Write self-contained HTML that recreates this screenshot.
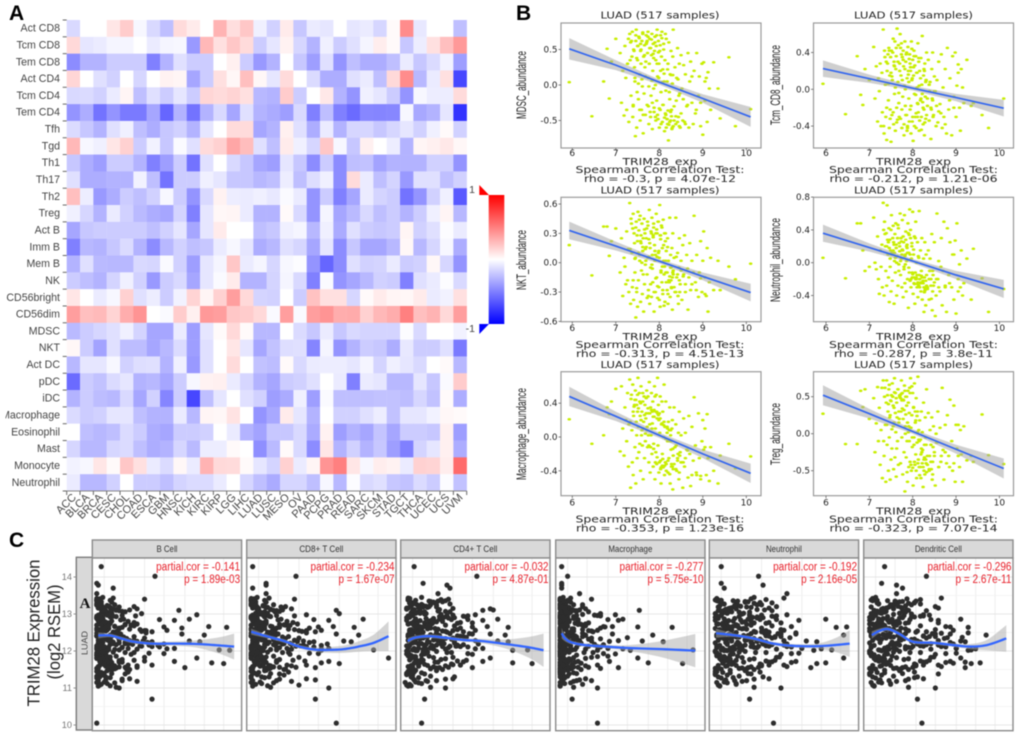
<!DOCTYPE html>
<html lang="en">
<head>
<meta charset="utf-8">
<title>TRIM28 immune correlation figure</title>
<style>
html,body{margin:0;padding:0;background:#fff;width:1020px;height:740px;overflow:hidden}
svg{display:block;filter:blur(0.4px)}
.sans{font-family:"Liberation Sans",sans-serif}
.dv{font-family:"DejaVu Sans","Liberation Sans",sans-serif}
</style>
</head>
<body>
<svg id="fig" width="1020" height="740" viewBox="0 0 1020 740" xmlns="http://www.w3.org/2000/svg">
<defs>
<linearGradient id="cbGrad" x1="0" y1="0" x2="0" y2="1">
<stop offset="0" stop-color="#ff0000"/><stop offset="0.5" stop-color="#ffffff"/><stop offset="1" stop-color="#0000ff"/>
</linearGradient>
<clipPath id="labelClip"><rect x="5.5" y="0" width="70" height="500"/></clipPath>
</defs>
<text class="sans" x="9" y="20" font-size="21" font-weight="bold" fill="#000">A</text>
<text class="sans" x="516" y="20" font-size="21" font-weight="bold" fill="#000">B</text>
<text class="sans" x="9" y="547" font-size="21" font-weight="bold" fill="#000">C</text>
<g id="heat"></g>
<g id="scatters"></g>
<g id="facets"></g>
</svg>
<script>
/* ---------- Panel A data ---------- */
const cellTypes=["Act CD8","Tcm CD8","Tem CD8","Act CD4","Tcm CD4","Tem CD4","Tfh","Tgd","Th1","Th17","Th2","Treg","Act B","Imm B","Mem B","NK","CD56bright","CD56dim","MDSC","NKT","Act DC","pDC","iDC","Macrophage","Eosinophil","Mast","Monocyte","Neutrophil"];
const cancerTypes=["ACC","BLCA","BRCA","CESC","CHOL","COAD","ESCA","GBM","HNSC","KICH","KIRC","KIRP","LGG","LIHC","LUAD","LUSC","MESO","OV","PAAD","PCPG","PRAD","READ","SARC","SKCM","STAD","TGCT","THCA","UCEC","UCS","UVM"];
/* correlation x 100, one row per cell type */
const correlationRows=[
[-15,0,0,10,20,-3,-15,-25,14,8,0,30,13,22,-6,-18,8,-22,-8,-10,0,-10,-8,-16,2,45,-9,0,0,-25],
[15,-10,-8,-4,-4,0,-8,-4,-3,-40,28,12,22,14,-20,-10,5,-16,-30,-6,-20,-12,-4,7,2,-22,-7,12,25,40],
[-45,-30,-30,-20,-20,-20,-50,-30,-12,-20,-20,0,6,-20,-40,-30,0,-22,-38,-12,-42,-25,-32,-32,-25,-8,-22,-14,-5,-38],
[16,0,-12,-18,0,-16,0,5,4,-35,-20,12,3,25,3,-10,14,0,-14,-32,-32,-12,-8,-25,15,45,-28,-8,12,-72],
[-15,-14,-18,-8,4,-25,-12,-20,-10,-20,16,14,17,12,-28,-30,20,-20,0,9,-30,-42,-6,-10,-20,-42,-3,-7,-7,14],
[-42,-32,-55,-42,-52,-52,-35,-60,-30,-55,-30,-15,-35,-12,-30,-33,-38,-15,-50,-25,-50,-58,-47,-48,-47,-3,-34,-30,-10,-80],
[-14,-22,-30,-12,-6,-25,-32,-22,-18,-30,-10,0,14,14,-35,-30,6,-12,-32,-8,-30,-16,-16,-22,-16,-10,-18,-6,2,-18],
[28,-3,-6,10,18,-20,-5,-22,-2,-12,14,18,35,26,-12,-25,8,-6,-16,22,-3,-22,6,0,-7,-30,4,6,9,3],
[-22,-32,-38,-20,-20,-30,-50,-38,-20,-55,-12,0,-15,-22,-35,-38,-10,-22,-45,-20,-45,-25,-24,-36,-30,-30,-30,-18,-18,-42],
[-12,-32,-32,-30,-30,-5,-25,-55,-20,-20,-6,-10,-22,-22,-28,-25,-7,-25,-13,-6,-45,14,-8,-25,-17,-40,-12,-12,-25,-18],
[25,-7,-40,-32,-20,-25,-18,-3,-20,-42,-15,5,-7,-8,-6,-9,-2,-8,-42,-20,-50,-35,-8,-17,-20,-55,-42,-18,-6,-65],
[-6,-16,-30,-8,-18,-27,-32,-35,-17,-50,-10,3,4,-8,-30,-30,2,-15,-42,-4,-35,-27,-15,-25,-20,-30,-20,-6,4,-28],
[-35,-22,-20,-20,-20,-20,-25,-18,-10,-35,-10,8,0,0,-25,-22,-6,-4,-28,-6,-33,-12,-20,-22,-20,4,-18,-12,-1,-8],
[-50,-28,-30,-22,-14,-30,-45,-28,-18,-25,-22,-8,-3,-10,-32,-28,-12,-16,-35,-10,-45,-22,-35,-35,-28,3,-28,-16,-3,-32],
[-30,-12,-27,-28,-28,-15,-16,-2,-18,-38,-10,-4,22,-8,-4,-16,-3,-1,-42,-60,-45,-12,-18,-17,-8,-20,-18,3,-16,-42],
[-20,-25,-30,-17,-6,-18,-40,-20,-15,-35,-10,-2,8,-30,-30,-17,-4,-15,-50,-2,-42,-35,-28,-18,-20,-50,-12,-8,-1,-15],
[10,0,-8,-3,18,-12,-7,-20,-5,17,4,18,38,15,-17,-18,0,-20,24,12,12,-16,2,8,4,3,8,-8,-5,12],
[38,25,27,17,32,42,0,-2,20,6,40,38,22,20,15,-2,38,-2,38,42,32,33,18,28,32,50,25,30,15,38],
[-27,-20,-16,-12,-6,-17,-35,-35,-8,-38,-10,2,15,2,-28,-28,0,-14,-22,-8,-22,-15,-17,-17,-17,-1,-15,0,0,-5],
[3,-20,-36,-12,-26,-26,-35,-28,-14,-38,-12,0,10,-10,-35,-24,-13,-12,-48,-4,-42,-30,-20,-22,-32,-9,-20,-20,-12,-52],
[-28,-10,-10,-3,-18,-13,-12,-30,-6,-40,-12,0,14,0,-24,-26,2,-15,-8,-7,-7,-10,-4,-17,-6,-10,-15,0,2,-28],
[-58,-20,-24,-14,-10,-30,-28,-35,-20,-3,5,6,-8,-16,-30,-35,-20,-18,-12,0,-8,-50,-8,-10,-28,-28,-10,-22,-2,20],
[-30,-20,-26,-28,-15,-35,-18,-48,-20,-72,-25,-10,0,-12,-18,-38,-33,-6,-38,-2,-25,-25,-25,-24,-24,-26,-16,-24,2,-32],
[-14,-20,-18,-10,-10,-25,-30,-30,-8,-28,4,3,11,0,-42,-34,8,-10,-30,0,-18,-18,-12,-7,-24,-10,-10,-5,3,2],
[0,-25,-28,-25,-14,-20,-32,-35,-20,-20,-18,0,-8,-30,-36,-22,-22,-15,-33,5,-38,-30,-35,-23,-35,-20,-20,-22,6,-38],
[-16,-28,-28,-16,-14,-25,-32,-30,-16,-27,-7,-7,2,0,-44,-27,2,-15,-45,10,-30,-18,-30,-22,-38,-50,-17,-10,6,-32],
[-5,-3,10,2,22,12,-8,-14,3,-8,30,15,14,2,-10,-17,18,-8,4,42,50,10,-3,7,5,-8,18,17,7,58],
[-8,-28,-28,-18,0,-20,-20,-25,-17,-14,-14,-8,0,-16,-25,-33,-16,-16,-25,-3,-28,-1,-15,-12,-22,-24,-14,-20,-1,-24]
];

/* ---------- Panel B data ---------- */
const trimExpression=[5.93,6.45,6.72,6.8,6.85,6.9,7.0,9.6,9.75,10.1,9.4,9.35,
7.1,7.13,7.16,7.19,7.21,7.23,7.25,7.27,7.29,7.3,
7.32,7.34,7.35,7.37,7.38,7.39,7.4,7.41,7.43,7.44,7.45,7.46,7.47,7.48,7.49,7.5,
7.51,7.52,7.53,7.55,7.56,7.57,7.58,7.59,7.6,7.61,7.62,7.63,7.64,7.65,7.66,7.67,7.68,7.7,
7.71,7.72,7.73,7.74,7.75,7.76,7.77,7.78,7.79,7.8,7.81,7.82,7.83,7.84,7.85,7.86,7.87,7.88,7.89,7.9,7.91,7.92,
7.93,7.94,7.95,7.96,7.97,7.98,7.99,8.0,8.01,8.02,8.03,8.04,8.05,8.06,8.07,8.08,8.09,8.1,8.11,8.12,8.13,8.14,
8.15,8.16,8.18,8.19,8.2,8.21,8.22,8.24,8.25,8.26,8.27,8.28,8.29,8.3,8.31,8.32,
8.34,8.36,8.38,8.4,8.42,8.44,8.45,8.46,8.48,8.5,8.52,8.54,
8.56,8.58,8.6,8.63,8.66,8.68,8.7,8.72,8.75,8.78,
8.8,8.83,8.86,8.9,8.92,8.95,8.98,9.0,
9.02,9.05,9.08,9.1,9.12,9.15,9.18,9.25,
7.36,7.42,7.46,7.5,7.54,7.58,7.62,7.66,7.7,7.74,
7.78,7.82,7.86,7.9,7.94,7.98,8.02,8.06,8.1,8.14,
8.18,8.22,8.26,8.3,8.34,8.38,8.42,8.46,8.5,8.6,
7.4,7.48,7.55,7.63,7.69,7.75,7.8,7.84,7.88,7.92,
7.96,8.0,8.04,8.08,8.12,8.16,8.2,8.24,8.28,8.32,
7.44,7.52,7.6,7.68,7.76,7.83,7.91,7.99,8.07,8.15,
8.23,8.31,8.39,8.47,8.55,8.65,8.75,8.85,8.95,9.05,
7.33,7.57,7.72,7.87,7.95,8.03,8.11,8.19,8.27,8.43];
const mdscAbundance=[.04,-.44,.05,.51,-.19,.33,.65,.39,-.58,-.34,-.47,-.05,
.45,-.25,.2,-.43,.55,.1,-.35,.3,.65,-.52,
.72,.6,-.15,.4,.75,-.45,-.3,.5,.25,.05,-.72,.62,.78,-.6,-.1,.35,
.55,-.2,.68,.15,-.5,.48,.3,-.35,.62,-.02,.72,-.68,.4,-.12,.56,.25,-.42,.7,
.6,-.28,.45,.75,.1,-.55,.3,.65,-.38,.52,-.15,.42,.72,-.62,.2,.58,-.05,-.32,.48,.68,-.45,.35,
.55,-.22,.78,.12,-.48,.62,.3,-.6,.48,-.35,.7,-.1,.4,.75,-.52,.22,-.28,.58,.05,-.65,.35,.72,
-.42,.65,.05,-.55,.3,-.78,.6,-.2,.15,-.5,.48,-.35,-.62,.02,.4,.78,
-.3,.25,-.55,.1,.52,-.45,-.15,.3,-.6,.42,-.05,-.5,
.28,-.52,.15,-.3,.45,-.6,.05,.33,-.25,-.55,
.2,-.4,.45,-.15,.12,-.58,.3,-.7,
.32,-.22,.1,-.52,.18,-.05,-.35,.32,
.62,.48,.7,.55,.66,.5,.74,.42,.58,.68,
.52,.64,.44,.6,.7,.46,.56,.66,.5,-.4,
-.48,-.56,-.38,-.6,-.5,-.44,-.52,-.58,-.4,-.55,
-.28,.38,-.35,-.42,.33,-.3,-.45,-.25,-.38,-.5,
-.42,-.33,-.55,-.28,-.46,-.6,-.36,-.52,-.44,-.58,
.1,.02,.08,.12,-.02,.06,0,.1,.04,-.08,
-.1,.14,-.22,-.12,-.2,-.28,.12,-.35,-.25,.05,
.35,.58,.62,.38,.3,.2,.16,.22,.14,.08];
const tcmCd8Abundance=[.06,-.27,.36,-.06,-.17,.22,.1,-.28,-.42,-.1,-.15,-.18,
.46,-.1,.25,-.35,.12,-.02,.28,-.4,.18,-.25,
.65,-.48,.42,.05,-.3,.3,-.55,.2,.38,-.12,.45,-.42,.15,-.22,.35,-.57,
.42,-.28,.1,.55,-.38,.3,-.05,.52,-.45,.22,.36,-.2,.66,-.33,.08,.48,-.15,.28,
.6,-.32,.15,.5,-.42,.35,-.08,.42,.25,-.5,.04,.52,-.18,.3,.38,-.28,.12,-.4,.46,.2,-.1,.33,
.38,-.22,.2,-.48,.52,.1,-.35,.32,-.56,.15,.42,-.05,.26,-.3,.36,-.42,.18,.02,-.15,.5,-.25,.3,
-.45,.2,-.12,.34,-.3,.05,.58,-.38,.15,-.22,-.5,.28,-.08,-.32,.1,.4,
-.18,.32,-.34,.08,-.54,.22,-.1,.4,-.28,.14,-.02,-.4,
.1,-.36,.3,-.16,.38,-.42,.02,-.3,.22,-.48,
.45,-.22,.12,-.5,.36,-.08,.4,-.3,
.04,.27,-.2,-.45,.22,.02,-.15,.32,
.35,.28,.42,.18,.4,.25,.45,.3,.2,.38,
.32,.22,.4,.16,.28,.44,.24,.36,.18,.34,
.12,-.05,.22,.08,-.1,.05,-.2,-.12,-.02,-.24,
-.2,-.32,-.25,-.36,-.3,-.22,-.38,-.28,-.42,-.35,
-.18,-.3,-.4,-.26,-.16,-.34,-.44,-.2,-.36,-.28,
.06,.14,.02,-.04,.1,0,.08,.12,-.06,.04,
-.14,.1,-.02,-.3,-.18,-.26,-.38,-.12,-.2,.18,
-.4,.26,.45,-.45,.24,.36,-.3,-.1,.2,-.22];
const nktAbundance=[.18,-.13,.37,.37,.07,.22,.35,-.04,-.17,-.01,-.28,.02,
-.1,.25,-.34,.05,-.04,-.22,.32,-.18,.14,-.3,
.61,-.42,.45,.1,-.25,.35,.5,-.38,.2,-.1,.05,-.56,.42,-.3,.28,-.45,
.52,-.18,.33,.02,.48,-.4,.2,-.08,.4,-.32,.12,.25,-.5,.45,-.22,.3,-.02,.16,
.35,-.12,.42,.05,-.28,.24,.54,-.42,.15,-.05,.32,-.35,.46,.08,-.2,.28,.4,-.5,.18,.02,-.3,.3,
.5,-.15,.3,-.36,.42,.1,-.25,.05,.59,-.45,.28,-.08,.38,-.2,.15,-.32,.44,.02,-.12,.3,-.4,.22,
-.1,.12,-.28,.25,-.42,.02,-.18,.46,-.35,.08,-.05,-.25,.15,-.48,.3,-.12,
.05,-.3,.46,-.15,.1,-.42,-.05,.25,-.22,.02,-.38,.18,
-.12,.28,-.3,.08,-.48,-.15,.2,-.28,.02,-.1,
.48,-.2,.08,-.35,-.1,.22,-.3,.02,
.32,-.15,-.34,.15,-.5,-.2,.05,-.28,
.4,.3,.36,.22,.44,.28,.16,.34,.25,.38,
.2,.3,.26,.12,.34,.42,.28,.36,.18,.3,
-.1,-.2,-.05,-.15,-.25,-.3,-.12,-.18,-.08,-.22,
-.18,-.26,.08,-.12,.02,-.34,-.22,-.06,-.3,-.16,
-.24,-.38,-.1,-.28,-.04,-.2,-.32,-.14,-.26,-.08,
.04,.1,0,.14,.06,-.02,.08,.12,-.04,.02,
-.2,-.1,.06,-.3,-.14,-.06,-.22,-.28,-.16,-.32,
.14,.22,-.36,.36,.06,.24,-.44,.16,-.18,-.34];
const neutrophilAbundance=[.06,-.19,.48,.48,.15,-.1,-.05,-.19,-.6,-.32,.17,-.45,
.55,0,-.08,.32,-.2,-.38,.15,-.05,.22,-.3,
.73,-.4,.5,.2,-.1,.36,-.28,.7,.1,-.18,.42,-.48,.28,-.05,.15,-.35,
.58,.1,-.22,.45,.25,-.5,.02,.35,-.12,.48,.18,-.4,.08,.3,-.28,.42,-.02,.2,
.6,-.15,.3,.05,-.3,.52,.15,-.42,.25,-.08,.58,-.25,.1,.38,-.35,.02,.22,-.2,.48,-.55,.12,-.12,
.65,-.22,.4,-.3,.05,.2,-.18,.62,-.38,.1,-.25,.32,-.5,-.12,.5,-.2,0,-.3,.25,-.42,.08,-.28,
.63,-.2,.15,-.35,-.1,.3,-.45,-.25,.05,-.6,-.18,.25,-.32,-.52,.1,-.15,
-.3,.15,-.45,.05,-.2,.35,-.58,-.1,-.28,.25,-.65,-.4,
.6,-.2,.02,-.35,.3,-.52,-.1,.5,-.28,-.6,
.42,-.15,.25,-.3,.1,-.45,.27,-.62,
.48,-.2,-.02,-.3,.15,-.4,-.25,.05,
.35,.28,.18,.4,.3,.12,.22,.46,.14,.26,
.32,.08,.2,.36,.1,.24,.16,.3,-.15,.06,
-.25,-.18,-.3,-.22,-.32,-.2,-.28,-.35,-.24,-.3,
.2,.05,.15,0,.24,.1,-.05,.28,.12,.34,
-.2,-.14,-.26,-.18,-.24,-.3,-.16,-.22,-.34,-.28,
.25,.12,.06,-.1,.16,-.02,-.06,-.12,-.2,-.15,
-.25,-.32,-.1,-.15,-.2,-.05,-.3,-.25,.1,-.35,
.4,.22,.02,.18,.3,-.18,-.26,-.24,-.36,-.44];
const macrophageAbundance=[.21,-.08,.02,.35,.27,.42,.57,-.08,-.37,-.23,-.22,-.55,
-.17,.6,.1,-.22,.35,.2,-.05,.52,-.35,.15,
.68,-.6,.45,.08,-.3,.62,-.45,.25,.38,-.12,.55,-.55,.18,.02,-.25,.5,
.7,.12,-.18,.42,.25,-.4,.6,.02,.3,-.1,.52,-.5,.18,.48,-.25,.38,-.05,.28,
.55,.08,-.12,.48,.28,-.3,.65,.15,-.42,.35,.02,.52,-.2,.3,.42,-.35,-.08,.24,.6,-.5,.1,.3,
.5,-.32,.22,.7,-.1,.38,-.42,.28,.05,.48,-.28,-.55,.15,.42,-.2,.3,-.36,0,.62,-.45,.12,-.3,
.42,-.32,.12,-.05,-.42,.18,-.25,.35,-.55,.02,-.15,-.35,.1,.2,-.62,-.22,
.35,-.12,.15,-.4,-.25,.05,-.5,.3,-.18,.02,-.3,-.6,
.22,-.35,.05,-.15,-.48,.25,-.2,-.58,.12,-.28,
.47,-.1,-.45,.28,-.25,-.5,-.05,.2,
-.15,.1,-.45,.27,-.25,-.52,-.12,-.4,
.5,.36,.44,.3,.52,.2,.42,.26,.46,.34,
.28,.32,.24,.48,.3,.26,.22,.16,.14,.12,
.05,-.05,.08,-.35,-.32,-.38,-.28,-.42,-.3,-.25,
.3,.38,-.08,.1,.22,.02,-.12,.16,.32,-.18,
.28,-.3,-.36,-.26,-.34,-.4,-.28,-.44,-.32,-.38,
.44,.34,.08,.04,-.1,.1,-.3,.2,-.34,-.02,
.08,-.14,-.1,-.22,-.3,-.16,-.45,-.42,-.46,-.12,
.18,.4,.12,-.14,-.24,-.38,.18,.1,-.05,-.2];
const tregAbundance=[.27,-.14,-.14,.58,.36,.6,.2,.26,-.29,-.41,-.38,-.3,
.48,-.25,.14,.63,-.1,.35,-.42,.05,.62,-.6,
.72,-.3,.5,.12,-.65,.42,.72,-.15,.3,-.5,.6,-.05,.22,-.62,.45,-.35,
.52,-.2,.68,.1,-.48,.35,.75,-.32,.55,.02,-.58,.42,.22,-.1,.6,-.42,.3,.5,
.52,-.4,.3,.72,-.05,.55,-.55,.2,.45,-.25,.65,-.78,.1,.5,-.32,.38,-.1,-.65,.58,.02,-.45,.28,
.62,-.38,.75,.08,-.5,.25,-.18,.55,-.7,.35,-.05,.68,-.42,.15,-.28,.48,-.6,-.12,.3,.77,-.35,.05,
-.45,.18,-.08,-.6,.3,-.25,.02,-.72,.42,-.35,-.15,-.55,.22,-.05,-.4,.6,
-.3,.28,-.5,.05,-.15,.22,-.62,-.38,.1,-.25,-.7,0,
-.12,.3,-.45,.08,-.3,.62,-.22,-.62,.12,-.4,
.25,-.3,.46,-.1,-.5,.38,-.65,.12,
-.2,.12,-.45,.05,-.28,-.65,.1,-.36,
.62,.52,.66,.44,.5,.56,.48,.6,.52,.54,
.46,.58,.5,.42,.55,.64,.36,.3,.24,-.08,
-.45,-.4,-.5,-.35,-.42,-.48,-.38,-.55,-.3,-.45,
.12,.25,.38,-.2,.2,.45,.32,.26,.15,-.1,
-.42,-.46,-.38,-.5,-.4,-.56,-.2,-.45,-.34,-.52,
.4,.06,.28,.15,.34,0,.1,-.05,.18,-.1,
-.22,-.15,-.3,-.18,-.12,-.38,-.25,-.45,-.4,-.3,
-.1,.15,.48,-.52,.08,-.15,.02,-.28,-.32,-.48];
const fitKnotsX=[5.93,7,8,9,10.1];
const mdscFit=[.51,.28,.04,-.19,-.45];
const tcmFit=[.225,.115,.012,-.09,-.205];
const nktFit=[.33,.17,.015,-.14,-.305];
const neutrophilFit=[.36,.185,.02,-.15,-.32];
const macrophageFit=[.48,.245,.02,-.2,-.43];
const tregFit=[.52,.27,.03,-.21,-.47];
const mdscBand=[.15,.07,.035,.06,.14];
const tcmBand=[.09,.045,.025,.04,.09];
const nktBand=[.09,.045,.022,.04,.09];
const neutrophilBand=[.105,.05,.025,.05,.11];
const macrophageBand=[.115,.055,.03,.05,.115];
const tregBand=[.135,.065,.03,.06,.135];
const rhoLabels=["rho = -0.3, p = 4.07e-12","rho = -0.212, p = 1.21e-06","rho = -0.313, p = 4.51e-13","rho = -0.287, p = 3.8e-11","rho = -0.353, p = 1.23e-16","rho = -0.323, p = 7.07e-14"];
const scatterYNames=["MDSC_abundance","Tcm_CD8_abundance","NKT_abundance","Neutrophil_abundance","Macrophage_abundance","Treg_abundance"];
const xTickValues=[6,7,8,9,10];

/* ---------- Panel C data ---------- */
const trim28Rsem=[14.28,14.02,13.83,13.78,13.7,13.55,10.05,10.7,
13.42,13.05,13.3,13.18,13.38,13.1,13.25,13.02,13.35,13.14,13.45,13.22,13.07,13.32,13.16,13.4,13.0,13.28,13.12,13.36,13.2,13.04,13.33,13.09,13.27,13.15,13.43,13.01,13.24,13.11,13.37,13.19,13.06,13.3,
12.95,12.62,12.8,12.51,12.88,12.7,12.57,12.98,12.75,12.6,12.85,12.53,12.92,12.66,12.78,12.55,12.9,12.72,12.59,12.83,12.5,12.97,12.68,12.76,12.56,12.87,12.64,12.93,12.73,12.52,12.81,12.61,12.96,12.69,12.58,12.86,12.74,12.54,12.91,12.65,
12.45,12.1,12.32,12.02,12.4,12.2,12.05,12.48,12.28,12.12,12.37,12.0,12.43,12.18,12.3,12.07,12.42,12.24,12.09,12.35,12.01,12.47,12.15,12.27,12.04,12.39,12.22,12.11,12.44,12.33,12.06,12.26,12.14,12.41,12.03,12.36,12.19,12.08,12.46,12.29,12.13,12.38,12.23,12.16,12.31,12.25,
11.95,11.6,11.8,11.52,11.88,11.7,11.55,11.98,11.75,11.62,11.85,11.5,11.92,11.66,11.78,11.57,11.9,11.72,11.59,11.83,11.53,11.97,11.68,11.76,11.56,11.87,11.64,11.93,11.73,11.54,11.81,11.61,11.96,11.69,
11.45,11.12,11.3,11.02,11.4,11.2,11.05,11.48,11.25,11.15,11.35,11.0,11.42,11.18,11.28,11.08,11.38,11.22,
13.38,13.12,13.26,13.03,13.34,13.17,13.08,13.29,13.21,13.36,13.05,13.13,13.31,13.23,13.1,13.39,13.16,13.02,13.27,13.35,13.09,13.19,13.41,13.06,13.25,
12.94,12.63,12.79,12.52,12.89,12.71,12.58,12.99,12.77,12.6,12.84,12.54,12.9,12.67,12.8,12.56,12.92,12.73,12.61,12.82,12.51,12.96,12.69,12.75,12.57,12.86,12.65,12.94,12.72,12.53,12.83,12.62,12.97,12.7,12.59,12.88,12.76,12.55,12.91,12.66,12.78,12.64,12.85,12.68,12.95,
12.44,12.11,12.31,12.03,12.41,12.21,12.06,12.47,12.27,12.13,12.38,12.01,12.42,12.17,12.29,12.08,12.43,12.25,12.1,12.34,12.02,12.46,12.16,12.26,12.05,12.4,12.23,12.12,12.45,12.32,12.07,12.28,12.15,12.39,12.04,12.37,12.18,12.09,12.48,12.3,12.14,12.36,12.24,12.19,12.33,12.2,12.35,12.22,12.42,12.49,
11.94,11.61,11.79,11.51,11.89,11.71,11.56,11.99,11.74,11.63,11.84,11.53,11.91,11.67,11.77,11.58,11.92,11.73,11.6,11.82,11.54,11.96,11.69,11.75,11.57,11.86,11.65,11.94,11.72,11.55,11.8,11.62,11.97,11.7,11.85,
11.44,11.16,11.32,11.06,11.41,11.24,11.1,11.47,11.27,11.14,11.36,11.2,11.43,11.3,11.39];
const bCellInfiltration=[6,42,3,4,14,3,3,40,
3,8,5,12,4,58,15,6,3,30,7,10,20,13,4,35,9,5,16,3,28,11,6,18,4,8,14,33,3,25,12,7,22,5,
4,60,8,14,3,26,10,70,6,18,45,5,12,78,9,35,3,22,7,55,15,4,28,11,50,6,90,16,5,40,13,3,20,8,32,65,10,17,4,48,
5,20,8,92,3,14,30,6,25,40,10,4,75,12,18,55,7,22,3,35,9,15,5,65,11,28,4,45,16,8,50,13,3,19,85,6,24,10,60,4,33,17,7,38,12,72,
3,30,8,15,5,20,62,4,12,40,7,25,3,88,10,18,5,55,9,35,4,14,80,6,22,3,11,48,8,16,70,5,28,13,
3,10,5,16,8,20,4,13,25,3,7,18,6,30,12,5,22,9,
3,6,4,9,5,12,7,3,11,4,8,14,5,10,16,3,7,13,6,4,9,18,5,12,3,
3,10,5,16,7,22,4,13,28,6,19,9,3,15,24,8,5,30,11,4,17,7,26,12,3,21,9,14,6,33,4,18,10,3,25,7,12,36,5,15,8,20,4,11,29,
4,11,6,18,3,26,8,14,34,5,21,10,3,16,28,7,12,40,4,23,9,19,6,30,3,13,37,8,17,5,24,11,44,4,15,7,27,20,3,10,32,6,14,48,8,22,5,18,12,36,
4,14,7,23,3,10,30,5,18,8,12,3,26,6,20,4,9,35,15,3,11,22,6,28,4,16,8,38,5,13,3,24,7,18,10,
4,8,3,12,5,20,6,10,3,15,7,4,24,9,13];
const cd8Infiltration=[4,33,13,13,4,13,60,46,
3,9,5,14,4,60,18,6,3,30,7,11,22,13,4,32,9,5,16,3,26,12,6,20,4,8,15,62,3,24,12,7,19,5,
4,42,8,14,3,26,10,40,6,18,45,5,12,58,9,35,3,22,7,55,15,4,28,11,50,6,72,16,5,46,13,3,20,8,32,78,10,17,4,48,
5,20,8,50,3,14,30,6,25,40,10,4,75,12,18,55,7,22,3,35,9,15,5,65,11,28,4,45,16,8,50,13,3,19,85,6,24,10,60,4,33,17,7,38,12,70,
3,30,8,15,5,20,46,4,12,40,7,25,3,62,10,18,5,55,9,35,4,14,50,6,22,3,11,48,8,16,95,5,28,13,
3,10,15,16,5,20,4,13,40,3,25,55,8,30,12,35,22,46,
3,7,4,10,5,13,8,3,12,4,9,16,5,11,18,3,7,14,6,4,20,23,5,12,3,
3,11,5,18,7,25,4,14,31,6,21,9,3,16,27,8,5,34,12,4,19,7,29,13,3,23,10,15,6,37,4,20,11,3,28,7,13,40,5,17,8,22,4,12,32,
4,12,6,20,3,29,8,15,38,5,24,11,3,18,32,7,13,45,4,26,9,21,6,34,3,14,42,8,19,5,27,12,50,4,16,7,30,22,3,10,36,6,15,54,8,25,5,20,13,40,
4,15,7,26,3,11,33,5,20,8,13,3,29,6,22,4,9,39,16,3,12,24,6,31,4,18,8,42,5,14,3,27,7,20,10,
4,9,3,14,5,22,6,12,3,18,7,4,28,10,16];
const cd4Infiltration=[9,51,15,31,33,25,14,16,
6,12,8,18,5,55,20,10,25,60,14,7,30,22,4,32,16,9,26,6,19,11,28,13,8,35,5,17,24,62,10,15,33,6,
5,40,9,15,22,30,12,50,7,18,45,6,27,58,11,35,4,20,13,55,24,8,36,16,50,10,72,26,5,42,19,14,31,9,38,65,21,28,6,48,
6,20,10,75,5,14,30,8,25,40,12,4,70,17,22,55,7,28,5,35,11,33,6,65,15,42,8,45,20,13,50,18,4,24,85,9,27,12,60,5,37,16,10,38,23,72,
5,30,10,20,7,25,48,5,15,40,9,28,4,88,14,22,6,55,12,35,8,18,75,6,32,5,16,45,10,24,60,7,34,13,
5,14,7,20,4,24,5,10,35,3,8,30,6,18,12,4,16,9,
5,9,14,7,20,12,25,6,17,30,10,4,22,15,8,27,5,13,33,19,9,24,6,16,11,
5,14,24,9,32,18,7,27,40,12,21,6,36,16,28,10,44,5,23,13,31,8,19,38,6,26,15,42,11,30,4,20,35,9,25,17,48,7,29,13,22,10,34,18,45,
5,16,28,8,38,12,22,46,6,33,18,10,26,42,7,20,14,36,5,30,11,48,24,8,17,40,6,28,13,34,9,50,21,5,16,44,12,32,7,25,38,10,19,52,6,29,15,36,23,11,
5,18,30,8,14,42,6,24,11,35,7,20,48,9,27,5,16,38,12,22,6,31,10,44,8,19,34,5,13,26,7,40,15,23,10,
5,10,20,7,14,30,6,24,8,12,4,17,9,36,6];
const macrophageInfiltration=[4,8,4,4,4,16,28,11,
3,6,4,9,3,56,12,4,3,20,5,7,14,10,3,24,6,4,11,3,18,8,4,13,3,5,10,30,3,16,8,5,22,4,
3,30,5,10,3,18,7,40,4,12,35,3,8,32,6,22,3,15,5,42,11,3,20,7,28,4,78,12,3,25,9,3,14,5,18,45,7,12,3,55,
3,14,5,50,3,9,20,4,16,28,6,3,65,8,12,35,5,15,3,24,6,10,3,58,7,18,3,30,11,5,45,9,3,13,92,4,16,6,38,3,22,11,5,26,8,72,
3,20,5,10,3,13,42,3,8,28,5,17,3,85,6,12,3,36,6,24,3,9,62,4,15,3,7,32,5,11,55,3,19,8,
3,6,4,12,3,14,3,8,20,3,5,28,3,12,4,3,9,16,
3,4,5,3,6,3,8,4,3,5,10,3,7,4,12,3,6,9,3,5,14,4,3,7,18,
3,5,9,3,13,4,7,18,3,11,5,24,3,8,15,4,3,20,6,3,10,28,4,13,3,7,33,5,17,3,9,4,26,6,3,12,22,3,5,38,8,3,15,4,30,
3,6,4,11,3,17,5,8,24,3,14,4,7,32,3,10,20,5,3,12,28,4,6,36,3,9,16,4,3,22,6,42,3,8,13,3,26,5,18,3,10,48,4,7,30,3,14,5,20,3,
3,5,9,3,14,4,22,3,7,11,3,30,5,17,3,8,40,4,3,12,6,25,3,10,4,35,3,6,15,3,20,5,9,3,28,
3,5,8,3,12,4,18,3,6,10,3,24,5,3,14];
const neutrophilInfiltration=[8,33,8,36,10,52,43,27,
5,20,8,28,4,10,35,12,6,18,30,7,14,24,40,5,22,9,32,16,45,11,26,6,34,13,50,4,19,37,8,25,15,42,
5,35,12,40,6,28,15,52,9,22,45,7,32,55,11,38,5,25,14,60,18,8,42,30,50,10,85,20,6,35,16,4,27,12,48,78,9,36,4,92,
6,30,12,70,5,20,45,8,35,52,15,4,90,18,25,62,10,38,5,42,12,28,7,65,22,48,4,55,16,10,75,32,5,26,82,8,36,14,58,6,40,20,11,50,24,72,
5,35,12,25,6,40,68,4,18,50,10,30,5,72,14,28,7,58,11,45,4,20,78,8,33,5,15,55,10,22,90,6,38,16,
4,18,6,30,4,25,7,14,40,5,12,48,9,22,16,6,28,11,
6,12,18,9,24,15,8,30,21,5,27,11,34,17,7,38,14,23,10,19,42,6,28,13,32,
5,14,24,9,32,18,7,27,40,12,21,6,36,16,28,10,44,5,23,13,31,8,19,38,6,26,15,42,11,30,4,20,35,9,25,17,48,7,29,13,22,10,34,18,45,
5,16,28,8,38,12,22,46,15,33,18,10,26,42,24,20,14,36,30,30,11,48,24,35,17,40,28,28,13,34,9,50,21,44,16,44,12,32,37,25,38,54,19,52,27,29,15,36,23,58,
5,18,30,8,14,42,33,24,11,35,47,20,48,9,27,52,16,38,12,22,6,31,55,44,28,19,34,60,13,26,7,40,15,23,10,
5,10,20,7,14,30,18,24,8,12,4,17,34,36,26];
const dendriticInfiltration=[14,42,12,22,26,22,39,36,
6,14,9,25,5,30,18,12,35,20,8,28,15,22,50,6,32,10,26,16,48,11,24,7,38,13,52,5,20,29,9,17,27,34,
7,25,12,35,6,22,15,40,9,28,45,7,32,55,11,30,5,20,14,50,18,8,38,24,60,10,70,16,6,42,19,4,27,12,48,65,9,36,4,58,
6,28,12,70,5,20,45,8,35,52,15,4,82,18,25,62,10,38,5,42,12,28,7,65,22,48,4,55,16,10,75,32,5,26,72,8,36,14,58,6,40,20,11,50,24,68,
5,35,12,25,6,40,68,4,18,50,10,30,5,72,14,28,7,58,11,45,4,20,78,8,33,5,15,55,10,22,65,6,38,16,
5,18,6,30,4,28,7,14,40,5,12,48,9,22,34,6,50,11,
8,14,20,11,26,16,9,30,23,6,28,12,34,18,7,38,15,24,10,21,42,5,29,13,32,
5,10,18,8,24,13,6,20,30,9,16,4,26,12,22,7,34,4,17,10,24,6,14,28,5,19,11,38,8,23,4,15,44,7,20,13,50,5,26,10,17,8,31,14,40,
5,16,32,10,40,22,28,46,36,33,18,12,26,42,24,20,14,36,30,54,11,48,24,35,17,40,58,28,13,34,62,50,21,44,16,66,38,32,52,25,38,56,19,60,27,45,15,36,23,70,
4,18,30,8,14,42,33,24,11,35,47,20,48,60,27,52,16,38,12,22,6,31,55,44,28,19,34,62,13,26,7,40,15,68,10,
5,10,20,7,14,30,18,24,8,12,4,17,34,36,26];
const bSmoothX=[4,12,20,28,40,55,70,85,95];
const bSmoothY=[12.42,12.42,12.33,12.25,12.2,12.2,12.19,12.15,12.12];
const bSmoothSe=[.08,.05,.05,.05,.05,.06,.1,.22,.35];
const cd8SmoothX=[3,15,25,35,45,55,65,75,85,95];
const cd8SmoothY=[12.52,12.38,12.27,12.12,12.04,12.03,12.05,12.12,12.22,12.4];
const cd8SmoothSe=[.08,.05,.05,.05,.06,.08,.1,.14,.22,.4];
const cd4SmoothX=[4.7,9.6,18.6,29.8,41,54,70,85.7,95.7];
const cd4SmoothY=[12.27,12.36,12.4,12.36,12.3,12.27,12.19,12.1,12.02];
const cd4SmoothSe=[.08,.05,.05,.05,.05,.06,.12,.28,.45];
const macSmoothX=[4,6.3,10.7,19.7,33,49,71,93.5];
const macSmoothY=[12.48,12.34,12.23,12.16,12.12,12.08,12.05,12.01];
const macSmoothSe=[.14,.08,.05,.05,.05,.08,.22,.45];
const neuSmoothX=[4.5,16,29.5,43,56,72,84,94];
const neuSmoothY=[12.48,12.43,12.34,12.2,12.14,12.13,12.16,12.2];
const neuSmoothSe=[.12,.05,.05,.05,.05,.07,.18,.36];
const dcSmoothX=[5.4,11,16.6,24,33,47,60,71,82.5,95.5];
const dcSmoothY=[12.43,12.55,12.59,12.46,12.25,12.22,12.16,12.12,12.16,12.34];
const dcSmoothSe=[.1,.06,.05,.05,.05,.05,.05,.07,.14,.36];
const facetTitles=["B Cell","CD8+ T Cell","CD4+ T Cell","Macrophage","Neutrophil","Dendritic Cell"];
const partialCorLabels=["partial.cor = -0.141","partial.cor = -0.234","partial.cor = -0.032","partial.cor = -0.277","partial.cor = -0.192","partial.cor = -0.296"];
const partialPLabels=["p = 1.89e-03","p = 1.67e-07","p = 4.87e-01","p = 5.75e-10","p = 2.16e-05","p = 2.67e-11"];
const rsemTicks=[10,11,12,13,14];
const rsemGrid=[10.5,11.5,12.5,13.5];
const infiltrationGrid=[8,21,35,48,62,75,88];

/* ---------- helpers ---------- */
const NS='http://www.w3.org/2000/svg';
function mk(parent,tag,attrs,txt){
  const n=document.createElementNS(NS,tag);
  for(const k in attrs){n.setAttribute(k,attrs[k]);}
  if(txt!==undefined){n.textContent=txt;}
  parent.appendChild(n);
  return n;
}
function spline(xs,ys){
  const out=[];
  for(let i=0;i<xs.length-1;i++){
    const i0=Math.max(i-1,0),i3=Math.min(i+2,xs.length-1);
    for(let s=0;s<8;s++){
      const t=s/8,t2=t*t,t3=t2*t;
      const cr=a=>0.5*(2*a[i]+(a[i+1]-a[i0])*t+(2*a[i0]-5*a[i]+4*a[i+1]-a[i3])*t2+(3*a[i]-a[i0]-3*a[i+1]+a[i3])*t3);
      out.push([cr(xs),cr(ys)]);
    }
  }
  out.push([xs[xs.length-1],ys[ys.length-1]]);
  return out;
}

/* ---------- Panel A: heatmap ---------- */
(function(){
  const g=document.getElementById('heat');
  const left=66.7,top=20,cw=400/cancerTypes.length,ch=471/cellTypes.length,bottom=top+ch*cellTypes.length,right=left+400;
  const xBand=c=>left+c*cw, yBand=r=>top+r*ch;
  const colour=v=>{
    const f=Math.max(-1,Math.min(1,v/100));
    const s=Math.round(255*(1-Math.abs(f)));
    return f>=0?`rgb(255,${s},${s})`:`rgb(${s},${s},255)`;
  };
  correlationRows.forEach((row,r)=>{
    row.forEach((v,c)=>{
      const cell=mk(g,'rect',{x:xBand(c),y:yBand(r),width:cw+0.2,height:ch+0.2,fill:colour(v)});
      
      
    });
  });
  const labels=mk(g,'g',{'clip-path':'url(#labelClip)'});
  
  
  cellTypes.forEach((name,r)=>{
    const tick=mk(g,'line',{x1:left-4,x2:left,y1:yBand(r),y2:yBand(r),stroke:'#666','stroke-width':1});
    
    
    const t=mk(labels,'text',{x:60,y:yBand(r)+ch/2+3.2,'text-anchor':'end','font-size':10.6,fill:'#444',class:'sans'},name);
    
    
  });
  const lastTick=mk(g,'line',{x1:left-4,x2:left,y1:bottom,y2:bottom,stroke:'#666','stroke-width':1});
  
  
  const axis=mk(g,'line',{x1:left,x2:right,y1:bottom,y2:bottom,stroke:'#888','stroke-width':1});
  
  
  for(let c=0;c<=cancerTypes.length;c++){
    const tick=mk(g,'line',{x1:xBand(c),x2:xBand(c),y1:bottom,y2:bottom+4,stroke:'#666','stroke-width':1});
    
    
  }
  cancerTypes.forEach((name,c)=>{
    const ax=xBand(c)+10, ay=bottom+7;
    const t=mk(g,'text',{x:ax,y:ay,'text-anchor':'end','font-size':11,fill:'#444',class:'sans',transform:`rotate(-45 ${ax} ${ay})`},name);
    
    
  });
  const bar=mk(g,'rect',{x:488.7,y:195,width:15.6,height:129,fill:'url(#cbGrad)'});
  
  
  const up=mk(g,'polygon',{points:'479.3,185 479.3,195 489,195',fill:'#ff0000'});
  
  
  const dn=mk(g,'polygon',{points:'479.3,334 479.3,324 489,324',fill:'#0000ff'});
  
  
  const t1=mk(g,'text',{x:475,y:193,'text-anchor':'end','font-size':10.5,fill:'#444',class:'sans'},'1');
  
  
  const t2=mk(g,'text',{x:475,y:332,'text-anchor':'end','font-size':10.5,fill:'#444',class:'sans'},'-1');
  
  
})();

/* ---------- Panel B: scatter plots ---------- */
(function(){
  const root=document.getElementById('scatters');
  const cols=[{left:561,right:761,x6:572.3,ppx:43.5,cx:660,ylx:522},{left:813.5,right:1013.5,x6:826,ppx:43.35,cx:913.5,ylx:776}];
  const rows=[{top:23,bottom:148,off:0},{top:197.3,bottom:321.7,off:175},{top:371.7,bottom:495.7,off:349.5}];
  const panels=[
    {c:0,r:0,zero:85,ppu:71,ticks:["0.5","0.0","-0.5"],ys:mdscAbundance,fit:mdscFit,band:mdscBand,name:0,ylen:68,ymid:85,rl:152},
    {c:1,r:0,zero:89.3,ppu:92,ticks:["0.4","0.0","-0.4"],ys:tcmCd8Abundance,fit:tcmFit,band:tcmBand,name:1,ylen:80,ymid:85,rl:168},
    {c:0,r:1,zero:262.7,ppu:97.8,ticks:["0.6","0.3","0.0","-0.3","-0.6"],ys:nktAbundance,fit:nktFit,band:nktBand,name:2,ylen:60,ymid:260,rl:168},
    {c:1,r:1,zero:262.7,ppu:82,ticks:["0.8","0.4","0.0","-0.4"],ys:neutrophilAbundance,fit:neutrophilFit,band:neutrophilBand,name:3,ylen:84,ymid:260,rl:159},
    {c:0,r:2,zero:437,ppu:84.5,ticks:["0.4","0.0","-0.4"],ys:macrophageAbundance,fit:macrophageFit,band:macrophageBand,name:4,ylen:92,ymid:434,rl:168},
    {c:1,r:2,zero:433.7,ppu:74,ticks:["0.5","0.0","-0.5"],ys:tregAbundance,fit:tregFit,band:tregBand,name:5,ylen:62,ymid:434,rl:168}
  ];
  panels.forEach(p=>{
    const col=cols[p.c],row=rows[p.r];
    const X=v=>col.x6+(v-6)*col.ppx, Y=v=>p.zero-v*p.ppu;
    const g=mk(root,'g',{});
    
    
    const title=mk(g,'text',{x:col.cx,y:18.5+row.off,'text-anchor':'middle','font-size':9.5,fill:'#222',class:'dv',textLength:119,lengthAdjust:'spacingAndGlyphs'},'LUAD (517 samples)');
    
    
    const frame=mk(g,'rect',{x:col.left,y:row.top,width:col.right-col.left,height:row.bottom-row.top,fill:'#fff',stroke:'#9a9a9a','stroke-width':1.2});
    
    
    trimExpression.forEach((x,i)=>{
      if(p.ys[i]===undefined)return;
      const d=mk(g,'ellipse',{cx:X(x),cy:Y(p.ys[i]),rx:1.8,ry:1.3,fill:'#c8ee00'});
      
      
    });
    const n=fitKnotsX.length;
    let pts=[];
    for(let i=0;i<n;i++){pts.push(X(fitKnotsX[i])+','+Y(p.fit[i]+p.band[i]));}
    for(let i=n-1;i>=0;i--){pts.push(X(fitKnotsX[i])+','+Y(p.fit[i]-p.band[i]));}
    const band=mk(g,'polygon',{points:pts.join(' '),fill:'#a8a8a8','fill-opacity':.55});
    
    
    const line=mk(g,'polyline',{points:fitKnotsX.map((x,i)=>X(x)+','+Y(p.fit[i])).join(' '),fill:'none',stroke:'#3366ee','stroke-width':1.7});
    
    
    xTickValues.forEach(v=>{
      const tk=mk(g,'line',{x1:X(v),x2:X(v),y1:row.bottom,y2:row.bottom+2.5,stroke:'#666','stroke-width':.8});
      
      
      const tl=mk(g,'text',{x:X(v),y:156+row.off,'text-anchor':'middle','font-size':9,fill:'#222',class:'dv'},String(v));
      
      
    });
    p.ticks.forEach(s=>{
      const v=parseFloat(s);
      const tk=mk(g,'line',{x1:col.left-2.5,x2:col.left,y1:Y(v),y2:Y(v),stroke:'#666','stroke-width':.8});
      
      
      const tl=mk(g,'text',{x:col.left-3.5,y:Y(v)+3,'text-anchor':'end','font-size':8.8,fill:'#222',class:'dv'},s);
      
      
    });
    const xl=mk(g,'text',{x:col.cx,y:165+row.off,'text-anchor':'middle','font-size':9.5,fill:'#222',class:'dv',textLength:75,lengthAdjust:'spacingAndGlyphs'},'TRIM28_exp');
    
    
    const sp=mk(g,'text',{x:col.cx,y:173.2+row.off,'text-anchor':'middle','font-size':9.5,fill:'#222',class:'dv',textLength:169,lengthAdjust:'spacingAndGlyphs'},'Spearman Correlation Test:');
    
    
    const rl=mk(g,'text',{x:col.cx,y:182+row.off,'text-anchor':'middle','font-size':9.5,fill:'#222',class:'dv',textLength:p.rl,lengthAdjust:'spacingAndGlyphs'},rhoLabels[p.name]);
    
    
    const yl=mk(g,'text',{x:col.ylx+4,y:p.ymid,'text-anchor':'middle','font-size':13.5,fill:'#222',class:'sans',textLength:p.ylen,lengthAdjust:'spacingAndGlyphs',transform:`rotate(-90 ${col.ylx+4} ${p.ymid})`},scatterYNames[p.name]);
    
    
  });
})();

/* ---------- Panel C: facets ---------- */
(function(){
  const root=document.getElementById('facets');
  const lefts=[92.3,246.7,400.7,555.7,709.3,863.7];
  const pw=149.3,top=558,bottom=730.7;
  const Y=v=>651-(v-12)*37;
  const series=[
    {xs:bCellInfiltration,cx:bSmoothX,cy:bSmoothY,se:bSmoothSe,tw:21},
    {xs:cd8Infiltration,cx:cd8SmoothX,cy:cd8SmoothY,se:cd8SmoothSe,tw:44},
    {xs:cd4Infiltration,cx:cd4SmoothX,cy:cd4SmoothY,se:cd4SmoothSe,tw:44},
    {xs:macrophageInfiltration,cx:macSmoothX,cy:macSmoothY,se:macSmoothSe,tw:44},
    {xs:neutrophilInfiltration,cx:neuSmoothX,cy:neuSmoothY,se:neuSmoothSe,tw:36},
    {xs:dendriticInfiltration,cx:dcSmoothX,cy:dcSmoothY,se:dcSmoothSe,tw:47}
  ];
  const rowStrip=mk(root,'rect',{x:76.3,y:557.3,width:16,height:172.7,fill:'#d9d9d9',stroke:'#7a7a7a','stroke-width':1.4});
  
  
  const letter=mk(root,'text',{x:85,y:608,'text-anchor':'middle','font-size':15,'font-weight':'bold',fill:'#111','font-family':'"Liberation Serif",serif'},'A');
  
  
  const luad=mk(root,'text',{x:87.5,y:643,'text-anchor':'middle','font-size':8,fill:'#444',class:'sans',textLength:24,lengthAdjust:'spacingAndGlyphs',transform:'rotate(-90 87.5 643)'},'LUAD');
  
  
  const t1=mk(root,'text',{x:39.5,y:633,'text-anchor':'middle','font-size':17.5,fill:'#222',class:'sans',textLength:147,lengthAdjust:'spacingAndGlyphs',transform:'rotate(-90 39.5 633)'},'TRIM28 Expression');
  
  
  const t2=mk(root,'text',{x:60,y:632,'text-anchor':'middle','font-size':17.5,fill:'#222',class:'sans',textLength:95,lengthAdjust:'spacingAndGlyphs',transform:'rotate(-90 60 632)'},'(log2 RSEM)');
  
  
  rsemTicks.forEach(v=>{
    const tl=mk(root,'text',{x:72,y:Y(v)+3.2,'text-anchor':'end','font-size':9.2,fill:'#777',class:'sans'},String(v));
    
    
    const tk=mk(root,'line',{x1:73.5,x2:76.3,y1:Y(v),y2:Y(v),stroke:'#888','stroke-width':.9});
    
    
  });
  series.forEach((s,idx)=>{
    const left=lefts[idx],right=left+pw;
    const X=v=>left+v*pw/100;
    const g=mk(root,'g',{});
    
    
    const strip=mk(g,'rect',{x:left,y:540,width:pw,height:18,fill:'#d9d9d9',stroke:'#8a8a8a','stroke-width':1.4});
    
    
    const st=mk(g,'text',{x:left+pw/2,y:552,'text-anchor':'middle','font-size':8.8,fill:'#333',class:'sans',textLength:s.tw,lengthAdjust:'spacingAndGlyphs'},facetTitles[idx]);
    
    
    const bg=mk(g,'rect',{x:left,y:top,width:pw,height:bottom-top,fill:'#fff'});
    
    
    infiltrationGrid.forEach(v=>{
      const l=mk(g,'line',{x1:X(v),x2:X(v),y1:top,y2:bottom,stroke:'#ececec','stroke-width':.9});
      
      
    });
    rsemGrid.forEach(v=>{
      const l=mk(g,'line',{x1:left,x2:right,y1:Y(v),y2:Y(v),stroke:'#f2f2f2','stroke-width':.7});
      
      
    });
    rsemTicks.forEach(v=>{
      const l=mk(g,'line',{x1:left,x2:right,y1:Y(v),y2:Y(v),stroke:'#e6e6e6','stroke-width':1});
      
      
    });
    trim28Rsem.forEach((y,i)=>{
      if(s.xs[i]===undefined)return;
      const d=mk(g,'circle',{cx:X(s.xs[i]),cy:Y(y),r:2.6,fill:'#2d2d2d'});
      
      
    });
    const upper=spline(s.cx,s.cy.map((v,i)=>v+s.se[i]));
    const lower=spline(s.cx,s.cy.map((v,i)=>v-s.se[i]));
    const poly=upper.concat(lower.reverse()).map(q=>X(q[0])+','+Y(q[1])).join(' ');
    const rib=mk(g,'polygon',{points:poly,fill:'#aaa','fill-opacity':.5});
    
    
    const curve=spline(s.cx,s.cy).map(q=>X(q[0])+','+Y(q[1])).join(' ');
    const cl=mk(g,'polyline',{points:curve,fill:'none',stroke:'#3366ff','stroke-width':2.3});
    
    
    const frame=mk(g,'rect',{x:left,y:top,width:pw,height:bottom-top,fill:'none',stroke:'#8a8a8a','stroke-width':1.4});
    
    
    const r1=mk(g,'text',{x:right-1.5,y:570.7,'text-anchor':'end','font-size':11.5,fill:'#e8212b',class:'sans',textLength:84,lengthAdjust:'spacingAndGlyphs'},partialCorLabels[idx]);
    
    
    const r2=mk(g,'text',{x:right-1.5,y:583,'text-anchor':'end','font-size':11.5,fill:'#e8212b',class:'sans',textLength:56,lengthAdjust:'spacingAndGlyphs'},partialPLabels[idx]);
    
    
  });
})();
</script>
</body>
</html>
